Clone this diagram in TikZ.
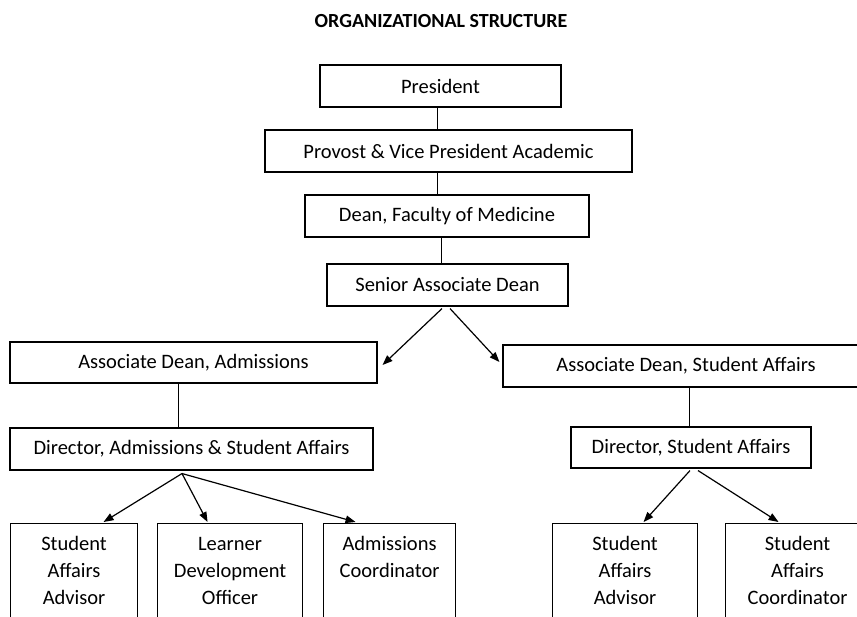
\documentclass[tikz,border=0pt]{standalone}
\usepackage{fontspec}
\setmainfont{Carlito}
\usetikzlibrary{arrows.meta,calc}
\begin{document}
\begin{tikzpicture}[x=1pt,y=-1pt,
  box/.style={draw, line width=1.1pt, rectangle, inner sep=0pt, minimum height=42pt,
    font=\fontsize{20.5}{27}\selectfont},
  tallbox/.style={draw, line width=1.1pt, rectangle, inner xsep=0pt, inner ysep=0pt,
    align=center, anchor=north west, text height=27pt, text depth=120pt,
    font=\fontsize{20.5}{27}\selectfont},
  link/.style={line width=0.8pt},
  arr/.style={line width=1.2pt, -{Triangle[length=10pt,width=7.5pt]}}
]
\useasboundingbox (0,0) rectangle (857,617);
\clip (0,0) rectangle (857,617);
\fill[white] (0,0) rectangle (857,617);

\node[font=\bfseries\fontsize{20}{24}\selectfont] (title) at (441,21) {ORGANIZATIONAL STRUCTURE};

\node[box, minimum width=241pt] (pres) at (440.5,86) {President};
\node[box, minimum width=367pt] (prov) at (448.5,151) {Provost \& Vice President Academic};
\node[box, minimum width=284pt] (dean) at (447,216) {Dean, Faculty of Medicine};
\node[box, minimum width=241pt] (sad) at (447.5,285) {Senior Associate Dean};
\node[box, minimum width=367pt, minimum height=41pt] (ada) at (193.5,362.5) {Associate Dean, Admissions};
\node[box, minimum width=366pt] (adsa) at (686,366) {Associate Dean, Student Affairs};
\node[box, minimum width=363pt] (das) at (191.5,449) {Director, Admissions \& Student Affairs};
\node[box, minimum width=240pt, minimum height=41pt] (dsa) at (691,447.5) {Director, Student Affairs};

\node[tallbox, text width=127pt] (b1) at (10,523) {Student\\Affairs\\Advisor};
\node[tallbox, text width=145pt] (b2) at (157,523) {Learner\\Development\\Officer};
\node[tallbox, text width=132pt] (b3) at (323,523) {Admissions\\Coordinator};
\node[tallbox, text width=145pt] (b4) at (552,523) {Student\\Affairs\\Advisor};
\node[tallbox, text width=144pt] (b5) at (725,523) {Student\\Affairs\\Coordinator};

% plain connectors
\draw[link] ([xshift=-3.5pt]pres.south) -- ([xshift=-3.5pt]pres.south |- prov.north);
\draw[link] ([xshift=-11.5pt]prov.south) -- ([xshift=-11.5pt]prov.south |- dean.north);
\draw[link] ([xshift=-6pt]dean.south) -- ([xshift=-6pt]dean.south |- sad.north);
\draw[link] ([xshift=-15.5pt]ada.south) -- ([xshift=-15.5pt]ada.south |- das.north);
\draw[link] ([xshift=3.5pt]adsa.south) -- ([xshift=3.5pt]adsa.south |- dsa.north);

% arrows
\draw[arr] ($(sad.south)+(-5.5,2)$) -- ($(ada.east)+(5,2.5)$);
\draw[arr] ($(sad.south)+(2.5,2)$) -- ($(adsa.west)+(-3,-4)$);

\draw[arr] ($(das.south)+(-9.5,3)$) -- ($(b1.north)+(29.5,-1)$);
\draw[arr] ($(das.south)+(-9.5,3)$) -- ($(b2.north)+(-22.5,-1)$);
\draw[arr] ($(das.south)+(-9.5,3)$) -- ($(b3.north)+(-34,-1)$);

\draw[arr] ($(dsa.south)+(-1,2)$) -- ($(b4.north)+(18.5,-1)$);
\draw[arr] ($(dsa.south)+(7,2)$) -- ($(b5.north)+(-19,-1)$);
\end{tikzpicture}
\end{document}
